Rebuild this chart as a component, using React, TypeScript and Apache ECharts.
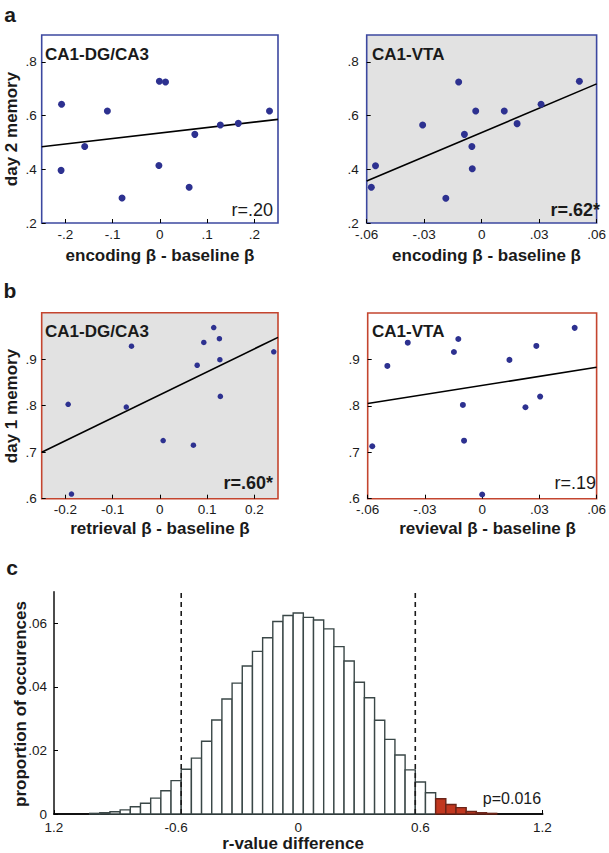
import React, { useEffect, useRef } from "react";
import * as echarts from "echarts";

const FONT = "'Liberation Sans', Arial, Helvetica, sans-serif";
const DOT = "#2d3190";
const BLUE = "#3c48a0";
const RED = "#c4452f";
const GRAY = "#e2e2e2";

// ---- panel a: encoding vs day 2 memory ----
const aDgX = [-0.208, -0.209, -0.159, -0.111, -0.08, -0.001, 0.012, -0.002, 0.062, 0.074, 0.128, 0.166, 0.232];
const aDgY = [0.642, 0.396, 0.485, 0.617, 0.293, 0.728, 0.725, 0.414, 0.333, 0.53, 0.565, 0.571, 0.617];
const aDgFit = [[-0.25, 0.484], [0.25, 0.586]];

const aVtaX = [-0.0576, -0.0554, -0.0308, -0.0187, -0.012, -0.009, -0.0051, -0.0049, -0.0031, 0.0118, 0.0185, 0.031, 0.051];
const aVtaY = [0.333, 0.413, 0.565, 0.292, 0.725, 0.53, 0.485, 0.402, 0.617, 0.617, 0.57, 0.642, 0.728];
const aVtaFit = [[-0.06, 0.356], [0.06, 0.718]];

// ---- panel b: retrieval vs day 1 memory ----
const bDgX = [-0.194, -0.187, -0.06, -0.071, 0.007, 0.071, 0.079, 0.093, 0.114, 0.126, 0.127, 0.128, 0.241];
const bDgY = [0.803, 0.61, 0.928, 0.797, 0.725, 0.715, 0.887, 0.936, 0.968, 0.944, 0.899, 0.82, 0.916];
const bDgFit = [[-0.25, 0.7], [0.25, 0.947]];

const bVtaX = [-0.0576, -0.0497, -0.039, -0.0148, -0.0125, -0.0101, -0.0095, 0, 0.0143, 0.0227, 0.0284, 0.0304, 0.0485];
const bVtaY = [0.713, 0.886, 0.936, 0.916, 0.944, 0.802, 0.725, 0.609, 0.899, 0.797, 0.929, 0.82, 0.968];
const bVtaFit = [[-0.06, 0.805], [0.06, 0.883]];

// ---- tick labels ----
const dgXTicks = [-0.2, -0.1, 0, 0.1, 0.2];
const aDgXLabels = ["-.2", "-.1", "0", ".1", ".2"];
const bDgXLabels = ["-0.2", "-0.1", "0", "0.1", "0.2"];
const vtaXTicks = [-0.06, -0.03, 0, 0.03, 0.06];
const vtaXLabels = ["-.06", "-.03", "0", ".03", ".06"];
const aYTicks = [0.2, 0.4, 0.6, 0.8];
const aYLabels = [".2", ".4", ".6", ".8"];
const bYTicks = [0.6, 0.7, 0.8, 0.9];
const bYLabels = [".6", ".7", ".8", ".9"];

// ---- panel c: permutation histogram ----
const binCenters = [
  -1.0, -0.95, -0.9, -0.85, -0.8, -0.75, -0.7, -0.65, -0.6, -0.55,
  -0.5, -0.45, -0.4, -0.35, -0.3, -0.25, -0.2, -0.15, -0.1, -0.05,
  0, 0.05, 0.1, 0.15, 0.2, 0.25, 0.3, 0.35, 0.4, 0.45,
  0.5, 0.55, 0.6, 0.65, 0.7, 0.75, 0.8, 0.85, 0.9, 0.95,
];
const binProps = [
  0.0002, 0.0004, 0.0007, 0.0013, 0.0023, 0.0034, 0.005, 0.0073, 0.0105, 0.0141,
  0.0176, 0.0229, 0.0296, 0.0362, 0.0412, 0.0466, 0.0512, 0.0555, 0.0606, 0.0625,
  0.0633, 0.0619, 0.0611, 0.0583, 0.0527, 0.0482, 0.0415, 0.0366, 0.0295, 0.0235,
  0.0186, 0.0139, 0.0101, 0.0067, 0.0048, 0.003, 0.002, 0.0008, 0.0004, 0.0002,
];
const binWidth = 0.05;
const observedCut = 0.675;
const critValues = [-0.575, 0.575];
const cXTicks = [-1.2, -0.6, 0, 0.6, 1.2];
const cXLabels = ["1.2", "-0.6", "0", "0.6", "1.2"];
const cYTicks = [0, 0.02, 0.04, 0.06];
const cYLabels = ["0", ".02", ".04", ".06"];

const lookup = (ticks: number[], labels: string[]) => (v: number) => {
  const i = ticks.findIndex((t) => Math.abs(t - v) < 1e-9);
  return i >= 0 ? labels[i] : "";
};

const tickStyle = (ticks: number[]) => ({
  show: true,
  inside: true,
  length: 4,
  customValues: ticks,
  lineStyle: { color: "#000", width: 1 },
});

const labelStyle = (ticks: number[], labels: string[], margin: number) => ({
  customValues: ticks,
  formatter: lookup(ticks, labels),
  fontSize: 13.5,
  color: "#1a1a1a",
  fontFamily: FONT,
  margin,
});

const txt = (
  text: string,
  x: number,
  y: number,
  size: number,
  bold: boolean,
  align = "center",
  rotate = 0
) => ({
  type: "text",
  x,
  y,
  rotation: rotate,
  silent: true,
  style: {
    text,
    x: 0,
    y: 0,
    font: `${bold ? "bold " : ""}${size}px ${FONT}`,
    fill: "#1a1a1a",
    align,
    verticalAlign: "middle",
    textAlign: align,
    textVerticalAlign: "middle",
  },
});

export default function App() {
  const ref = useRef<HTMLDivElement>(null);

  useEffect(() => {
    document.body.style.margin = "0";
    if (!ref.current) return;
    const chart = echarts.init(ref.current, undefined, { renderer: "svg" });

    const grids = [
      { left: 41.7, top: 35, width: 236.3, height: 188, show: true, borderColor: BLUE, borderWidth: 1.6, backgroundColor: "#fff" },
      { left: 366.7, top: 35, width: 239, height: 188, show: true, borderColor: BLUE, borderWidth: 1.6, backgroundColor: GRAY },
      { left: 41.7, top: 312.7, width: 236.3, height: 186, show: true, borderColor: RED, borderWidth: 1.6, backgroundColor: GRAY },
      { left: 367.7, top: 313, width: 236.5, height: 185.7, show: true, borderColor: RED, borderWidth: 1.6, backgroundColor: "#fff" },
      { left: 54, top: 591.7, width: 488.5, height: 222.3, show: false },
    ];

    const xAxes: any[] = [
      { min: -0.25, max: 0.25, ticks: dgXTicks, labels: aDgXLabels, margin: 4 },
      { min: -0.06, max: 0.06, ticks: vtaXTicks, labels: vtaXLabels, margin: 4 },
      { min: -0.25, max: 0.25, ticks: dgXTicks, labels: bDgXLabels, margin: 4 },
      { min: -0.06, max: 0.06, ticks: vtaXTicks, labels: vtaXLabels, margin: 4 },
    ].map((a, i) => ({
      type: "value",
      gridIndex: i,
      position: "bottom",
      min: a.min,
      max: a.max,
      axisLine: { show: false, onZero: false },
      splitLine: { show: false },
      axisTick: tickStyle(a.ticks),
      axisLabel: labelStyle(a.ticks, a.labels, a.margin),
    }));
    xAxes.push({
      type: "value",
      gridIndex: 4,
      position: "bottom",
      min: -1.2,
      max: 1.2,
      axisLine: { show: true, onZero: false, lineStyle: { color: "#111", width: 2 } },
      splitLine: { show: false },
      axisTick: tickStyle(cXTicks),
      axisLabel: labelStyle(cXTicks, cXLabels, 6),
    });

    const yAxes: any[] = [
      { min: 0.2, max: 0.9, ticks: aYTicks, labels: aYLabels, margin: 5 },
      { min: 0.2, max: 0.9, ticks: aYTicks, labels: aYLabels, margin: 8 },
      { min: 0.6, max: 1.0, ticks: bYTicks, labels: bYLabels, margin: 5 },
      { min: 0.6, max: 1.0, ticks: bYTicks, labels: bYLabels, margin: 8 },
    ].map((a, i) => ({
      type: "value",
      gridIndex: i,
      position: "left",
      min: a.min,
      max: a.max,
      axisLine: { show: false, onZero: false },
      splitLine: { show: false },
      axisTick: tickStyle(a.ticks),
      axisLabel: labelStyle(a.ticks, a.labels, a.margin),
    }));
    yAxes.push({
      type: "value",
      gridIndex: 4,
      position: "left",
      min: 0,
      max: 0.07,
      axisLine: { show: true, onZero: false, lineStyle: { color: "#111", width: 1.5 } },
      splitLine: { show: false },
      axisTick: tickStyle(cYTicks),
      axisLabel: labelStyle(cYTicks, cYLabels, 7),
    });

    const panels = [
      { x: aDgX, y: aDgY, fit: aDgFit, size: 7 },
      { x: aVtaX, y: aVtaY, fit: aVtaFit, size: 7 },
      { x: bDgX, y: bDgY, fit: bDgFit, size: 5.5 },
      { x: bVtaX, y: bVtaY, fit: bVtaFit, size: 6 },
    ];

    const series: any[] = [];
    panels.forEach((p, i) => {
      series.push({
        type: "line",
        xAxisIndex: i,
        yAxisIndex: i,
        data: p.fit,
        symbol: "none",
        lineStyle: { color: "#000", width: 1.6 },
        z: 2,
        silent: true,
      });
      series.push({
        type: "scatter",
        xAxisIndex: i,
        yAxisIndex: i,
        data: p.x.map((x, j) => [x, p.y[j]]),
        symbolSize: p.size,
        itemStyle: { color: DOT, opacity: 1 },
        z: 3,
        silent: true,
      });
    });

    series.push({
      type: "custom",
      xAxisIndex: 4,
      yAxisIndex: 4,
      data: binCenters.map((c, i) => [c, binProps[i]]),
      encode: { x: 0, y: 1 },
      silent: true,
      z: 2,
      renderItem: (_params: any, api: any) => {
        const c = api.value(0);
        const h = api.value(1);
        const p0 = api.coord([c - binWidth / 2, h]);
        const p1 = api.coord([c + binWidth / 2, 0]);
        const red = c >= observedCut;
        return {
          type: "rect",
          shape: { x: p0[0], y: p0[1], width: p1[0] - p0[0], height: p1[1] - p0[1] },
          style: {
            fill: red ? "#c2371f" : "#ffffff",
            stroke: red ? "#6b2418" : "#3a4747",
            lineWidth: 1.4,
          },
        };
      },
    });

    critValues.forEach((c) => {
      series.push({
        type: "line",
        xAxisIndex: 4,
        yAxisIndex: 4,
        data: [[c, 0], [c, 0.07]],
        symbol: "none",
        lineStyle: { color: "#1a1a1a", width: 1.6, type: [5, 4] },
        z: 4,
        silent: true,
      });
    });

    const graphic = [
      txt("a", 10, 14, 21, true),
      txt("b", 10, 290, 21, true),
      txt("c", 12, 567, 21, true),
      txt("day 2 memory", 11, 129, 17, true, "center", Math.PI / 2),
      txt("day 1 memory", 11, 406, 17, true, "center", Math.PI / 2),
      txt("proportion of occurences", 20, 704, 17, true, "center", Math.PI / 2),
      txt("encoding β - baseline β", 160, 255, 17, true),
      txt("encoding β - baseline β", 486.5, 255, 17, true),
      txt("retrieval β - baseline β", 160, 528, 17, true),
      txt("revieval β - baseline β", 487.5, 528, 17, true),
      txt("r-value difference", 293, 843, 17, true),
      txt("CA1-DG/CA3", 45, 54, 17, true, "left"),
      txt("CA1-VTA", 372, 54, 17, true, "left"),
      txt("CA1-DG/CA3", 45, 331, 17, true, "left"),
      txt("CA1-VTA", 372, 331, 17, true, "left"),
      txt("r=.20", 273, 210, 18, false, "right"),
      txt("r=.62*", 600, 210, 18, true, "right"),
      txt("r=.60*", 273, 483, 18, true, "right"),
      txt("r=.19", 596, 483, 18, false, "right"),
      txt("p=0.016", 512, 798, 16, false),
    ];

    chart.setOption({
      animation: false,
      backgroundColor: "#ffffff",
      grid: grids,
      xAxis: xAxes,
      yAxis: yAxes,
      series,
      graphic,
    });

    return () => chart.dispose();
  }, []);

  return <div ref={ref} style={{ width: 609, height: 853 }} />;
}
